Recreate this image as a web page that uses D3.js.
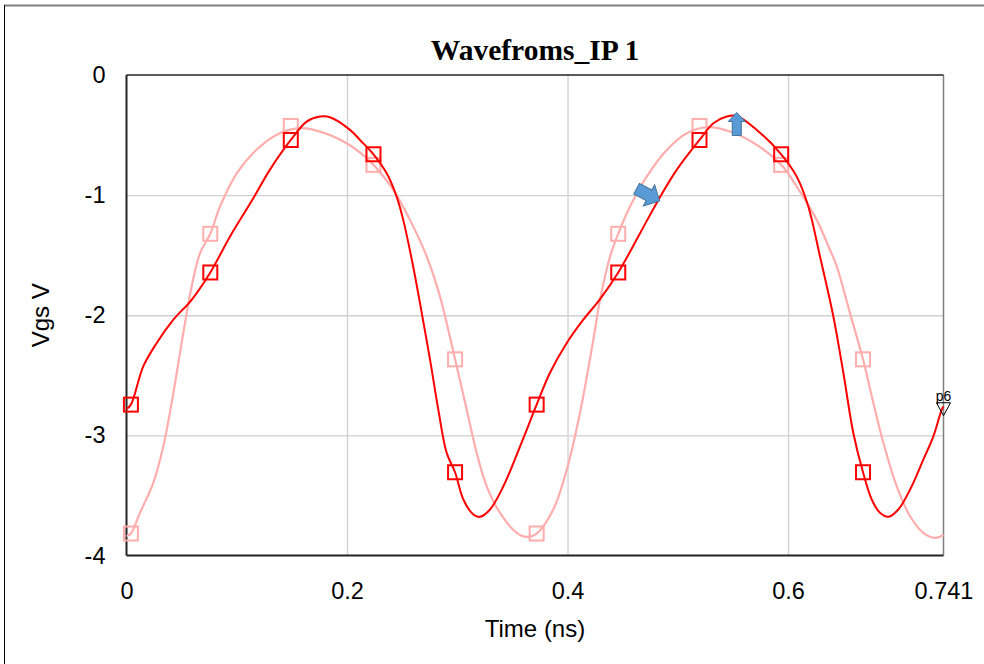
<!DOCTYPE html>
<html>
<head>
<meta charset="utf-8">
<script src="https://d3js.org/d3.v7.min.js"></script>
<style>
body { margin: 0; background: white; }
.tick text { font-family: "Liberation Sans", Arial, sans-serif; font-size: 23.5px; fill: black; }
.grid line { stroke: #d0d0d0; stroke-width: 1.3px; }
.grid path { display: none; }
.axis-label { font-family: "Liberation Sans", Arial, sans-serif; font-size: 24px; }
</style>
</head>
<body>
<svg width="984" height="664"></svg>
<script>
// dark red trace (ns, V)
var redT = [0, 0.004, 0.0152, 0.0274, 0.0425, 0.0591, 0.076, 0.0939, 0.115, 0.130, 0.149, 0.1634, 0.1755, 0.1846, 0.2027, 0.2118,
  0.224, 0.236, 0.245, 0.251, 0.260, 0.2678, 0.2753, 0.2828, 0.2904, 0.298, 0.3055, 0.3146, 0.3206, 0.3297, 0.3418, 0.357,
  0.372, 0.384, 0.3993, 0.4143, 0.4295, 0.446, 0.4658, 0.4824, 0.499, 0.5197, 0.5323, 0.5444, 0.5535, 0.5716, 0.5938,
  0.6079, 0.6184, 0.629, 0.6411, 0.6502, 0.6592, 0.668, 0.6759, 0.6834, 0.691, 0.700, 0.7107, 0.7227, 0.7318, 0.7394, 0.741];
var redV = [-2.78, -2.744, -2.426, -2.231, -2.037, -1.871, -1.644, -1.344, -1.026, -0.79, -0.541, -0.388, -0.346, -0.352, -0.457, -0.541,
  -0.66, -0.818, -1.012, -1.206, -1.594, -1.982, -2.37, -2.786, -3.146, -3.307, -3.534, -3.659, -3.678, -3.617, -3.424, -3.091,
  -2.744, -2.481, -2.231, -2.037, -1.866, -1.644, -1.317, -1.04, -0.79, -0.541, -0.402, -0.346, -0.341, -0.457, -0.66,
  -0.846, -1.095, -1.511, -2.01, -2.481, -2.98, -3.307, -3.534, -3.645, -3.678, -3.617, -3.451, -3.202, -3.008, -2.786, -2.76];

// light pink trace
var pinkT = [0, 0.004, 0.0122, 0.0243, 0.0334, 0.0425, 0.0515, 0.0591, 0.0667, 0.076, 0.0848, 0.100, 0.1211, 0.1392, 0.1574, 0.1755, 0.1997, 0.218,
  0.224, 0.242, 0.2571, 0.2723, 0.2843, 0.298, 0.3086, 0.3176, 0.3267, 0.3388, 0.3539, 0.363, 0.372, 0.3871, 0.3993, 0.4113, 0.4234, 0.4295,
  0.4386, 0.446, 0.4567, 0.4718, 0.490, 0.5081, 0.5263, 0.5474, 0.5716, 0.5938, 0.6079, 0.626, 0.638, 0.6442, 0.6562, 0.668,
  0.6774, 0.6865, 0.6986, 0.7107, 0.7227, 0.7333, 0.741];
var pinkV = [-3.84, -3.817, -3.645, -3.395, -3.091, -2.647, -2.148, -1.76, -1.483, -1.322, -1.095, -0.818, -0.596, -0.485, -0.443, -0.471, -0.568, -0.693,
  -0.748, -0.956, -1.206, -1.511, -1.843, -2.367, -2.786, -3.146, -3.424, -3.645, -3.811, -3.845, -3.817, -3.617, -3.285, -2.813, -2.204, -1.871,
  -1.511, -1.322, -1.095, -0.846, -0.624, -0.485, -0.435, -0.471, -0.582, -0.748, -0.929, -1.206, -1.455, -1.594, -1.982, -2.367,
  -2.73, -3.063, -3.424, -3.673, -3.811, -3.853, -3.83];

// square markers
var markT = [0.004, 0.076, 0.149, 0.224, 0.298, 0.372, 0.446, 0.5197, 0.5938, 0.668];
var redMarkV = [-2.744, -1.644, -0.541, -0.66, -3.307, -2.744, -1.644, -0.541, -0.66, -3.307];
var pinkMarkV = [-3.817, -1.322, -0.424, -0.748, -2.367, -3.817, -1.322, -0.424, -0.748, -2.367];

var xTicks = [0, 0.2, 0.4, 0.6, 0.741];
var xTickLabels = ["0", "0.2", "0.4", "0.6", "0.741"];
var yTicks = [0, -1, -2, -3, -4];

// p6 marker and the two blue arrows
var p6 = {t: 0.741, v: -2.77, label: "p6"};
var arrowUp = {t: 0.5535, v: -0.32};
var arrowRight = {t: 0.4826, v: -1.04};

var svg = d3.select("svg");
var pLeft = 126.5, pRight = 943.5, pTop = 75, pBottom = 555.5;
var x = d3.scaleLinear().domain([0, 0.741]).range([pLeft, pRight]);
var y = d3.scaleLinear().domain([0, -4]).range([pTop, pBottom]);

// outer frame
svg.append("line").attr("x1", 4).attr("x2", 984).attr("y1", 5.5).attr("y2", 5.5)
  .style("stroke", "#808080").style("stroke-width", 2);
svg.append("line").attr("x1", 4.5).attr("x2", 4.5).attr("y1", 5).attr("y2", 664)
  .style("stroke", "black").style("stroke-width", 1);

// grid
svg.append("g").attr("class", "grid")
  .attr("transform", "translate(0," + pBottom + ")")
  .call(d3.axisBottom(x).tickValues([0.2, 0.4, 0.6]).tickSize(-(pBottom - pTop)).tickFormat(""));
svg.append("g").attr("class", "grid")
  .attr("transform", "translate(" + pLeft + ",0)")
  .call(d3.axisLeft(y).tickValues([-1, -2, -3]).tickSize(-(pRight - pLeft)).tickFormat(""));

// plot frame
svg.append("line").attr("x1", pRight).attr("x2", pRight).attr("y1", pTop).attr("y2", pBottom)
  .style("stroke", "#808080").style("stroke-width", 1.5);
svg.append("line").attr("x1", pLeft).attr("x2", pRight).attr("y1", pTop).attr("y2", pTop)
  .style("stroke", "#222").style("stroke-width", 1.5);
svg.append("line").attr("x1", pLeft).attr("x2", pRight).attr("y1", pBottom).attr("y2", pBottom)
  .style("stroke", "#222").style("stroke-width", 2);
svg.append("line").attr("x1", pLeft).attr("x2", pLeft).attr("y1", pTop).attr("y2", pBottom)
  .style("stroke", "#222").style("stroke-width", 2);

// axes labels
var yAxis = svg.append("g")
  .attr("transform", "translate(" + pLeft + ",0)")
  .call(d3.axisLeft(y).tickValues(yTicks).tickSize(0).tickPadding(21).tickFormat(function(d){ return d3.format("d")(d).replace("−", "-"); }));
yAxis.select(".domain").remove();

var xAxis = svg.append("g")
  .attr("transform", "translate(0," + pBottom + ")")
  .call(d3.axisBottom(x).tickValues(xTicks).tickSize(0).tickPadding(27).tickFormat(function(d, i){ return xTickLabels[i]; }));
xAxis.select(".domain").remove();

svg.append("text").attr("class", "axis-label")
  .attr("x", (pLeft + pRight) / 2).attr("y", 637)
  .attr("text-anchor", "middle").text("Time (ns)");
svg.append("text").attr("class", "axis-label")
  .attr("transform", "translate(49," + ((pTop + pBottom) / 2) + ") rotate(-90)")
  .attr("text-anchor", "middle").text("Vgs V");

// title
svg.append("text")
  .attr("x", 535).attr("y", 60)
  .attr("text-anchor", "middle")
  .style("font-family", "'Liberation Serif', 'Times New Roman', serif")
  .style("font-weight", "bold")
  .style("font-size", "29.5px")
  .text("Wavefroms_IP 1");

var line = d3.line()
  .x(function(d){ return x(d[0]); })
  .y(function(d){ return y(d[1]); })
  .curve(d3.curveCatmullRom.alpha(0.5));

var pinkColor = "#ffadad", redColor = "#ff0000";

svg.append("path").datum(d3.zip(pinkT, pinkV))
  .attr("d", line).style("fill", "none").style("stroke", pinkColor).style("stroke-width", 2.2);
svg.selectAll(".pmark").data(d3.zip(markT, pinkMarkV)).enter().append("rect")
  .attr("class", "pmark")
  .attr("x", function(d){ return x(d[0]) - 7; }).attr("y", function(d){ return y(d[1]) - 7; })
  .attr("width", 14).attr("height", 14)
  .style("fill", "none").style("stroke", pinkColor).style("stroke-width", 2);

svg.append("path").datum(d3.zip(redT, redV))
  .attr("d", line).style("fill", "none").style("stroke", redColor).style("stroke-width", 2);
svg.selectAll(".rmark").data(d3.zip(markT, redMarkV)).enter().append("rect")
  .attr("class", "rmark")
  .attr("x", function(d){ return x(d[0]) - 7; }).attr("y", function(d){ return y(d[1]) - 7; })
  .attr("width", 14).attr("height", 14)
  .style("fill", "none").style("stroke", redColor).style("stroke-width", 2);

// p6 marker
var px = x(p6.t), py = y(p6.v);
svg.append("path")
  .attr("d", "M" + (px - 7) + "," + (py - 5) + "L" + (px + 7) + "," + (py - 5) + "L" + px + "," + (py + 8) + "Z")
  .style("fill", "none").style("stroke", "black").style("stroke-width", 1);
svg.append("text").attr("x", px).attr("y", py - 7)
  .attr("text-anchor", "middle")
  .style("font-family", "'Liberation Sans', Arial, sans-serif").style("font-size", "14px")
  .text(p6.label);

// blue block arrows
svg.append("path")
  .attr("d", "M-4.5,22 L-4.5,8 L-8.5,8 L0,-1 L8.5,8 L4.5,8 L4.5,22 Z")
  .attr("transform", "translate(" + x(arrowUp.t) + "," + y(arrowUp.v) + ")")
  .style("fill", "#5b9bd5").style("stroke", "#41719c").style("stroke-width", 1);
svg.append("path")
  .attr("d", "M-26,-6 L-12,-6 L-12,-12 L0,0 L-12,12 L-12,6 L-26,6 Z")
  .attr("transform", "translate(" + (x(arrowRight.t) + 1) + "," + (y(arrowRight.v) + 1) + ") rotate(28)")
  .style("fill", "#5b9bd5").style("stroke", "#41719c").style("stroke-width", 1);
</script>
</body>
</html>
